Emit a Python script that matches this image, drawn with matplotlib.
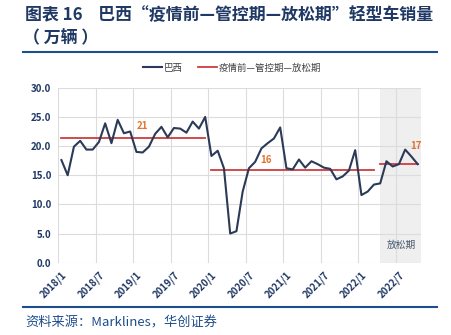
import matplotlib
matplotlib.use("Agg")
import matplotlib.pyplot as plt
from matplotlib.lines import Line2D
import numpy as np

plt.rcParams['font.family'] = ['Noto Sans CJK SC', 'DejaVu Sans']

# Monthly light-vehicle sales in Brazil (10k units), 2018/1 - 2022/10
months = [f"{y}/{m}" for y in range(2018, 2023) for m in range(1, 13)][:58]
sales = [17.6, 15.0, 19.9, 20.9, 19.4, 19.4, 20.7, 23.9, 20.5, 24.5, 22.2, 22.5,
         19.0, 18.9, 19.9, 22.1, 23.3, 21.5, 23.1, 23.0, 22.3, 24.2, 23.0, 25.0,
         18.3, 19.2, 16.2, 5.0, 5.4, 12.2, 16.2, 17.3, 19.6, 20.5, 21.3, 23.2,
         16.2, 16.0, 17.7, 16.3, 17.4, 16.9, 16.3, 16.1, 14.3, 14.8, 15.8, 19.3,
         11.6, 12.2, 13.4, 13.6, 17.4, 16.5, 16.9, 19.4, 18.2, 16.9]

# Period boundaries (index ranges into the monthly series)
periods = [(0, 23), (24, 50), (51, 57)]
period_names = ["疫情前", "管控期", "放松期"]
tick_labels = ["2018/1", "2018/7", "2019/1", "2019/7", "2020/1", "2020/7",
               "2021/1", "2021/7", "2022/1", "2022/7"]
yticks = [0, 5, 10, 15, 20, 25, 30]

navy = "#2A3A57"
red = "#CC3D3D"
orange = "#E0742E"
text_blue = "#1F3864"
rule_blue = "#1F4E8C"

fig = plt.figure(figsize=(4.52, 3.35), dpi=100)
ax = fig.add_axes([0.129, 0.2158, 0.802, 0.5222])

x = np.arange(len(sales))
ax.set_xlim(-0.5, len(sales) - 0.5)
ax.set_ylim(0, 30)

# shaded "relaxation" period
ax.axvspan(50.9, len(sales) - 0.5, color="#EFEFEF", zorder=0, lw=0)

# grid
for gx in np.arange(-0.5, len(sales), 6):
    ax.axvline(gx, color="#DCDCDC", lw=0.8, zorder=1)
for gy in yticks:
    ax.axhline(gy, color="#DCDCDC", lw=0.8, zorder=1)

ax.plot(x, sales, color=navy, lw=1.5, zorder=3)

label_pos = [(12.9, 2.2), (32.7, 1.7), (56.7, 3.1)]
for (s, e), (lx, dy) in zip(periods, label_pos):
    mean = np.mean(sales[s:e + 1])
    ax.plot([s, e], [mean, mean], color=red, lw=1.3, zorder=2)
    ax.text(lx, mean + dy, f"{mean:.0f}", color=orange, fontsize=7,
            fontweight="bold", ha="center", va="center", zorder=4)

ax.text(54.4, 3.0, period_names[2], color="#44546A", fontsize=7,
        ha="center", va="center")

for sp in ax.spines.values():
    sp.set_visible(False)

ax.set_yticks(yticks)
ax.set_yticklabels([f"{v:.1f}" for v in yticks], fontsize=7,
                   fontweight="bold", color=text_blue)
ax.set_xticks(np.arange(0, len(sales), 6))
ax.set_xticklabels(tick_labels, rotation=45, ha="right",
                   rotation_mode="anchor", fontsize=7, fontweight="bold",
                   color=text_blue)
ax.tick_params(length=0, pad=5)

# legend
handles = [Line2D([], [], color=navy, lw=1.5),
           Line2D([], [], color=red, lw=1.3)]
fig.legend(handles, ["巴西", "—".join(period_names)],
           loc="center", bbox_to_anchor=(0.513, 0.797), ncol=2, frameon=False,
           fontsize=6.8, handlelength=2.0, handletextpad=0.2, columnspacing=1.6,
           labelcolor="#404040")

# title block
fig.text(0.055, 0.955, "图表 16    巴西“疫情前—管控期—放松期”轻型车销量",
         fontsize=12.2, fontweight="bold", color=text_blue, va="center")
fig.text(0.05, 0.887, "（ 万辆 ）", fontsize=12.2, fontweight="bold",
         color=text_blue, va="center")
fig.add_artist(Line2D([0.051, 0.967], [0.845, 0.845], color=rule_blue, lw=1.5))
fig.add_artist(Line2D([0.051, 0.967], [0.085, 0.085], color=rule_blue, lw=1.5))
fig.text(0.055, 0.036, "资料来源：Marklines，华创证券", fontsize=9.5,
         style="italic", color=rule_blue, va="center")

fig.savefig("out.png", dpi=100)
